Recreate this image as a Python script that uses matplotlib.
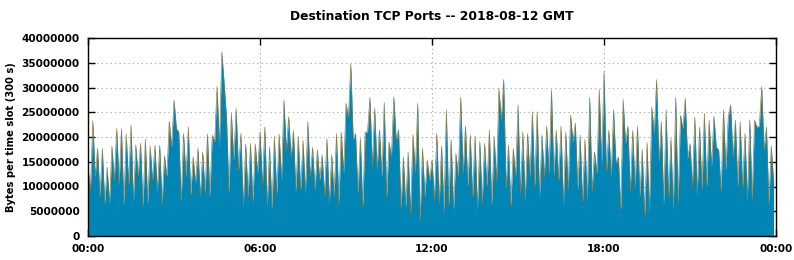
import numpy as np
import matplotlib
matplotlib.use("Agg")
import matplotlib.pyplot as plt

# Bytes per 300 s slot, in millions, 288 slots over the day
total_m = [
    14, 9.3, 23.3, 12, 17.7, 8, 17.7, 6.6, 13.9, 6.6,
    18.2, 11.3, 21.7, 10.6, 21.7, 6.3, 20.6, 10.6, 22.4, 6.9,
    18.4, 12, 18.7, 5.9, 19.6, 6.6, 18.2, 11.3, 18.3, 9,
    18.3, 6.6, 16.2, 12, 23.2, 18, 27.5, 21.7, 21, 7,
    20.7, 12, 22, 8.3, 16, 10.6, 17.7, 8, 17, 8.6,
    20.6, 8, 20.4, 19, 30.2, 18, 37.2, 30.8, 23.8, 8.6,
    24.8, 15.4, 25.8, 13.3, 20.7, 5.9, 18.6, 8, 18.7, 6.9,
    18.6, 12.7, 21.1, 10.3, 22, 5.9, 18, 5.3, 20.1, 8.6,
    20.6, 11.3, 27.5, 17.4, 24.1, 16, 21.3, 9, 20.1, 9.3,
    19.3, 8.6, 23.1, 12, 17.9, 9.3, 17.4, 11.3, 16.4, 8.3,
    19.7, 6.6, 16.4, 8, 20.7, 6.6, 21, 12.7, 26.8, 24,
    34.7, 19.5, 20.7, 8.6, 19.7, 5.9, 21, 21, 28, 14,
    25.8, 13.6, 21.5, 12, 27, 8, 19, 16, 28.1, 19.4,
    21.5, 5.6, 16, 5.9, 17, 4.6, 20.5, 12.7, 26.8, 3.2,
    17.7, 8, 15.4, 11.3, 15.4, 7.3, 20.7, 6.6, 18.2, 4.9,
    25.5, 6.3, 19.5, 5.3, 16.7, 12, 28.1, 12.7, 22.2, 10,
    20.4, 8, 20.2, 5.3, 19.1, 6.6, 18.7, 10, 21.4, 6.3,
    20.1, 11.3, 29.8, 23.4, 31.6, 9.6, 18.4, 6, 17.7, 12,
    26.5, 8.6, 21, 7.3, 20.7, 12, 25.1, 10, 25.1, 8,
    20.4, 12, 22.2, 12.7, 29.5, 12.3, 21.4, 11.3, 22.2, 6.3,
    21, 9.3, 24.4, 19, 22.8, 9.3, 20.4, 6.9, 19.5, 7.3,
    28, 9, 17, 12.7, 29.6, 14.7, 33.2, 13, 21.4, 12,
    25.5, 14.7, 16, 5.3, 27.6, 18.7, 22.2, 9, 21.3, 10,
    22.2, 8, 17.5, 4.2, 18.9, 4.9, 26.1, 20.7, 31.6, 15,
    23.1, 6.6, 25.5, 8, 19.7, 5.3, 28, 6.6, 24.4, 21.7,
    27.8, 15.7, 18.7, 10, 24, 8.3, 22, 9.3, 24.8, 10,
    23.4, 14, 24.2, 18, 17.4, 9, 25.5, 13.3, 24.1, 26.5,
    16, 23.4, 10, 23.1, 10, 20.7, 7.3, 23.4, 7.3, 23.4,
    22, 22.2, 30.2, 17.4, 22, 6.6, 18.2, 11,
]

tick_pos = [0, 6, 12, 18, 24]
tick_labels = ["00:00", "06:00", "12:00", "18:00", "00:00"]

hours = np.arange(len(total_m)) * 5 / 60.0
values = np.array(total_m) * 1e6

plt.rcParams['font.family'] = ['DejaVu Sans']
plt.rcParams['font.weight'] = 'bold'

fig = plt.figure(figsize=(7.94, 2.60), dpi=100)
ax = fig.add_axes([88 / 794, 1 - 236 / 260, 688 / 794, 198 / 260])

ax.fill_between(hours, 0, values, color='#0085b5', lw=0, zorder=2)
ax.plot(hours, values, color='#857a45', lw=0.45, zorder=3)

ax.set_xlim(0, 24)
ax.set_ylim(0, 40e6)
ax.set_xticks(tick_pos)
ax.set_xticklabels(tick_labels)
ax.set_yticks(np.arange(0, 40e6 + 1, 5e6))
ax.set_yticklabels(["%d" % v for v in np.arange(0, 40e6 + 1, 5e6)])

ax.tick_params(direction='in', length=5, width=1, top=True, right=True,
               labelsize=7.6, pad=6)
for lbl in ax.get_xticklabels() + ax.get_yticklabels():
    lbl.set_fontweight('bold')
ax.grid(True, color='#a0a0a0', linestyle=(0, (1, 3)), lw=0.8, zorder=1)
for s in ax.spines.values():
    s.set_linewidth(1.0)
    s.set_zorder(4)

ax.set_ylabel("Bytes per time slot (300 s)", fontsize=7.2, fontweight='bold', labelpad=4)
ax.set_title("Destination TCP Ports -- 2018-08-12 GMT", fontsize=8.8,
             fontweight='bold', pad=13)

fig.savefig("out.png", dpi=100)
